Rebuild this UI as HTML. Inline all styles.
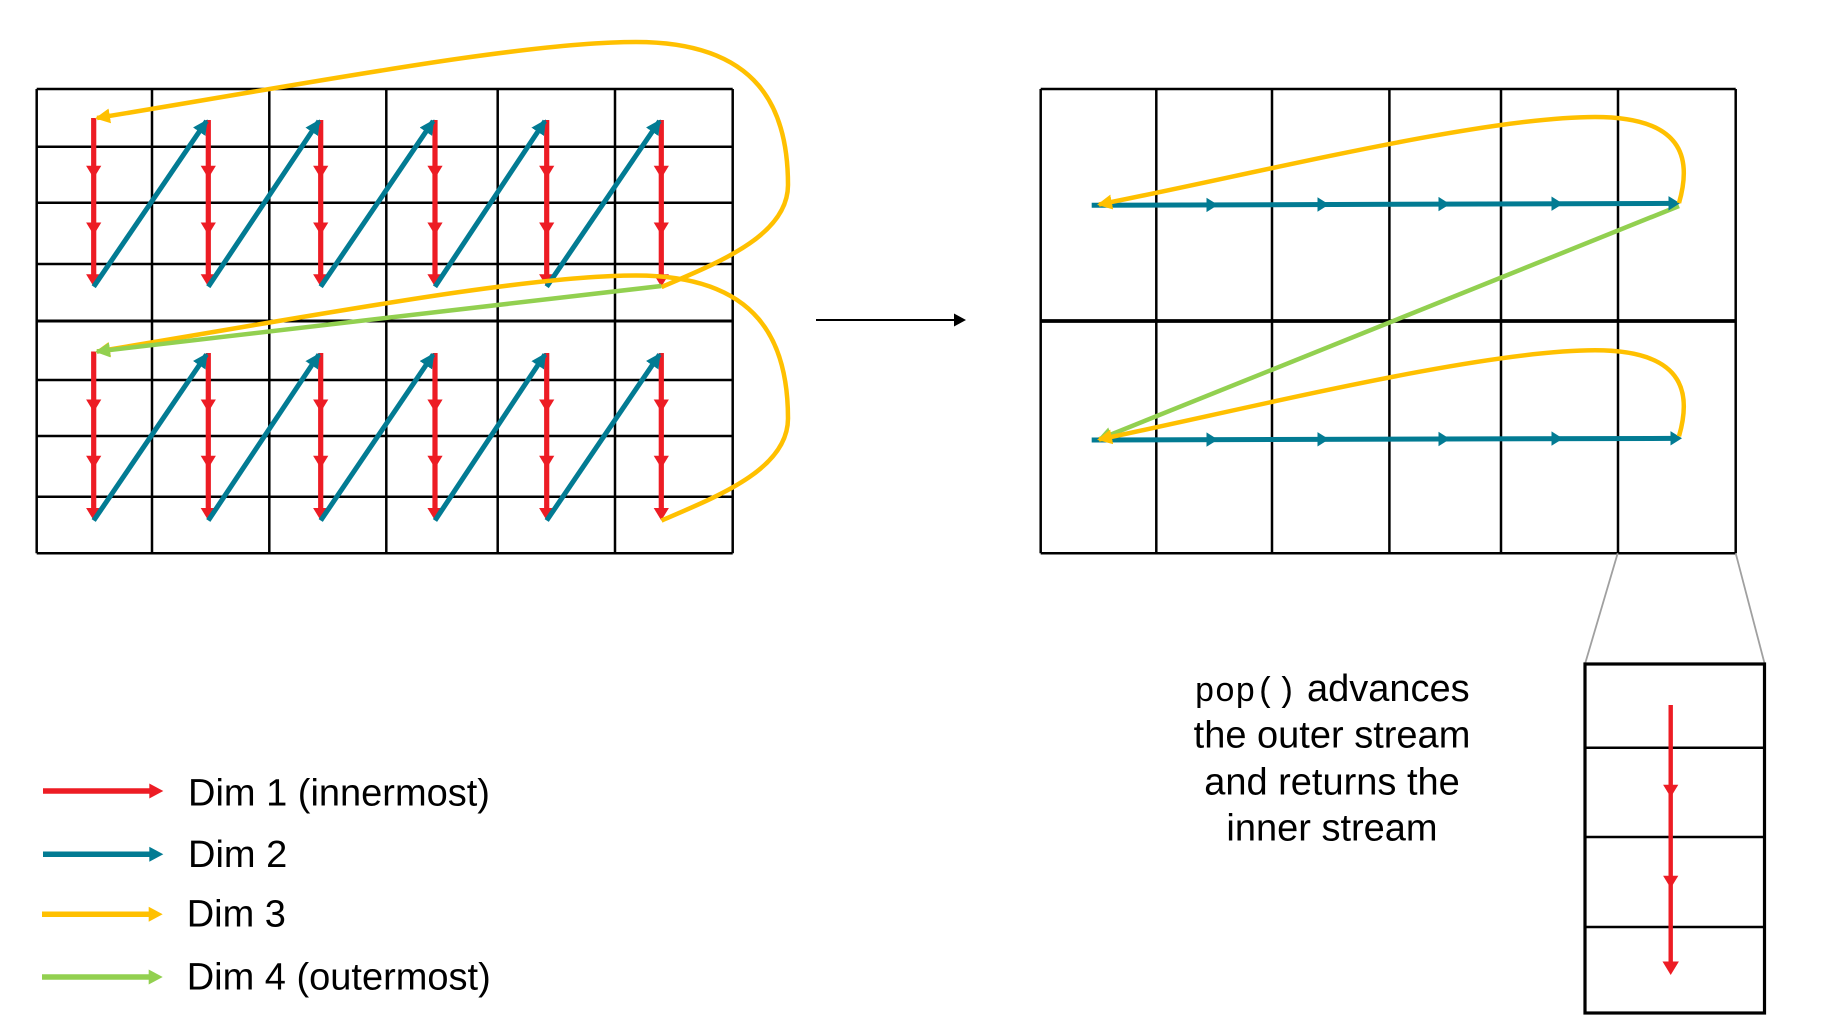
<!DOCTYPE html>
<html>
<head>
<meta charset="utf-8">
<style>
  html, body { margin: 0; padding: 0; background: #ffffff; }
  body { width: 1824px; height: 1026px; overflow: hidden; }
  svg { display: block; }
</style>
</head>
<body>
<svg width="1824" height="1026" viewBox="0 0 1824 1026" xmlns="http://www.w3.org/2000/svg">
  <defs>
    <path id="rh" d="M-7.6,-12.5 L7.6,-12.5 L0,0 Z" fill="#ED1C24"/>
    <path id="bh" d="M-11.5,-7.2 L0,0 L-11.5,7.2 Z" fill="#027B93"/>
    <marker id="mb" markerUnits="userSpaceOnUse" markerWidth="18" markerHeight="16" refX="13" refY="7.5" orient="auto">
      <path d="M0,0 L15,7.5 L0,15 Z" fill="#027B93"/>
    </marker>
    <marker id="my" markerUnits="userSpaceOnUse" markerWidth="18" markerHeight="16" refX="13" refY="7.5" orient="auto">
      <path d="M0,0 L15,7.5 L0,15 Z" fill="#FFC000"/>
    </marker>
    <marker id="mg" markerUnits="userSpaceOnUse" markerWidth="18" markerHeight="16" refX="13" refY="7.5" orient="auto">
      <path d="M0,0 L15,7.5 L0,15 Z" fill="#92D050"/>
    </marker>
  </defs>

  <rect x="0" y="0" width="1824" height="1026" fill="#ffffff"/>

  <!-- ============ LEFT GRID ============ -->
  <g stroke="#000" stroke-width="2.5" fill="none">
    <line x1="36.7" y1="89" x2="732.7" y2="89"/>
    <line x1="36.7" y1="146.7" x2="732.7" y2="146.7"/>
    <line x1="36.7" y1="202.7" x2="732.7" y2="202.7"/>
    <line x1="36.7" y1="264" x2="732.7" y2="264"/>
    <line x1="36.7" y1="321" x2="732.7" y2="321" stroke-width="3"/>
    <line x1="36.7" y1="380" x2="732.7" y2="380"/>
    <line x1="36.7" y1="436" x2="732.7" y2="436"/>
    <line x1="36.7" y1="496.7" x2="732.7" y2="496.7"/>
    <line x1="36.7" y1="553.3" x2="732.7" y2="553.3"/>
    <line x1="36.7" y1="89" x2="36.7" y2="553.3"/>
    <line x1="152" y1="89" x2="152" y2="553.3"/>
    <line x1="269.3" y1="89" x2="269.3" y2="553.3"/>
    <line x1="386.3" y1="89" x2="386.3" y2="553.3"/>
    <line x1="497.7" y1="89" x2="497.7" y2="553.3"/>
    <line x1="615" y1="89" x2="615" y2="553.3"/>
    <line x1="732.7" y1="89" x2="732.7" y2="553.3"/>
  </g>

  <!-- red columns -->
  <g stroke="#ED1C24" stroke-width="5.2" fill="none">
    <line x1="93.7" y1="118" x2="93.7" y2="281"/>
    <line x1="208.3" y1="120" x2="208.3" y2="281"/>
    <line x1="320.7" y1="120" x2="320.7" y2="281"/>
    <line x1="435" y1="120" x2="435" y2="281"/>
    <line x1="546.7" y1="120" x2="546.7" y2="281"/>
    <line x1="661.3" y1="120" x2="661.3" y2="281"/>
    <line x1="93.7" y1="351.5" x2="93.7" y2="515"/>
    <line x1="208.3" y1="353" x2="208.3" y2="515"/>
    <line x1="320.7" y1="353" x2="320.7" y2="515"/>
    <line x1="435" y1="353" x2="435" y2="515"/>
    <line x1="546.7" y1="353" x2="546.7" y2="515"/>
    <line x1="661.3" y1="353" x2="661.3" y2="515"/>
  </g>
  <g>
    <use href="#rh" x="93.7" y="178.3"/><use href="#rh" x="93.7" y="235"/><use href="#rh" x="93.7" y="286.7"/>
    <use href="#rh" x="208.3" y="178.3"/><use href="#rh" x="208.3" y="235"/><use href="#rh" x="208.3" y="286.7"/>
    <use href="#rh" x="320.7" y="178.3"/><use href="#rh" x="320.7" y="235"/><use href="#rh" x="320.7" y="286.7"/>
    <use href="#rh" x="435" y="178.3"/><use href="#rh" x="435" y="235"/><use href="#rh" x="435" y="286.7"/>
    <use href="#rh" x="546.7" y="178.3"/><use href="#rh" x="546.7" y="235"/><use href="#rh" x="546.7" y="286.7"/>
    <use href="#rh" x="661.3" y="178.3"/><use href="#rh" x="661.3" y="235"/><use href="#rh" x="661.3" y="286.7"/>
    <use href="#rh" x="93.7" y="412"/><use href="#rh" x="93.7" y="468.3"/><use href="#rh" x="93.7" y="520.5"/>
    <use href="#rh" x="208.3" y="412"/><use href="#rh" x="208.3" y="468.3"/><use href="#rh" x="208.3" y="520.5"/>
    <use href="#rh" x="320.7" y="412"/><use href="#rh" x="320.7" y="468.3"/><use href="#rh" x="320.7" y="520.5"/>
    <use href="#rh" x="435" y="412"/><use href="#rh" x="435" y="468.3"/><use href="#rh" x="435" y="520.5"/>
    <use href="#rh" x="546.7" y="412"/><use href="#rh" x="546.7" y="468.3"/><use href="#rh" x="546.7" y="520.5"/>
    <use href="#rh" x="661.3" y="412"/><use href="#rh" x="661.3" y="468.3"/><use href="#rh" x="661.3" y="520.5"/>
  </g>

  <!-- blue diagonals -->
  <g stroke="#027B93" stroke-width="5" fill="none" marker-end="url(#mb)">
    <line x1="93.7" y1="286.7" x2="206.5" y2="121"/>
    <line x1="208.3" y1="286.7" x2="318.9" y2="121"/>
    <line x1="320.7" y1="286.7" x2="433.2" y2="121"/>
    <line x1="435" y1="286.7" x2="544.9" y2="121"/>
    <line x1="546.7" y1="286.7" x2="659.5" y2="121"/>
    <line x1="93.7" y1="520.5" x2="206.5" y2="354.5"/>
    <line x1="208.3" y1="520.5" x2="318.9" y2="354.5"/>
    <line x1="320.7" y1="520.5" x2="433.2" y2="354.5"/>
    <line x1="435" y1="520.5" x2="544.9" y2="354.5"/>
    <line x1="546.7" y1="520.5" x2="659.5" y2="354.5"/>
  </g>

  <!-- yellow loops (left) -->
  <g stroke="#FFC000" stroke-width="4.5" fill="none" marker-end="url(#my)">
    <path d="M661.5,287 C720,262 788,235 788,185 C788,110 760,42 636,42 C520,42 300,85 97,118"/>
    <path d="M661.5,520.5 C720,495.5 788,468.5 788,418.5 C788,343.5 760,275.5 636,275.5 C520,275.5 300,318.5 97,351.5"/>
  </g>
  <!-- green (left) -->
  <line x1="661.3" y1="286" x2="97" y2="351.5" stroke="#92D050" stroke-width="4.5" marker-end="url(#mg)"/>

  <!-- middle black arrow -->
  <line x1="816" y1="320" x2="957" y2="320" stroke="#000" stroke-width="2"/>
  <polygon points="954,313.5 966,320 954,326.5" fill="#000"/>

  <!-- ============ RIGHT GRID ============ -->
  <g stroke="#000" stroke-width="2.5" fill="none">
    <line x1="1040.7" y1="89" x2="1735.7" y2="89"/>
    <line x1="1040.7" y1="321" x2="1735.7" y2="321" stroke-width="3.8"/>
    <line x1="1040.7" y1="553.3" x2="1735.7" y2="553.3"/>
    <line x1="1040.7" y1="89" x2="1040.7" y2="553.3"/>
    <line x1="1156.3" y1="89" x2="1156.3" y2="553.3"/>
    <line x1="1272" y1="89" x2="1272" y2="553.3"/>
    <line x1="1389.4" y1="89" x2="1389.4" y2="553.3"/>
    <line x1="1501" y1="89" x2="1501" y2="553.3"/>
    <line x1="1618" y1="89" x2="1618" y2="553.3"/>
    <line x1="1735.7" y1="89" x2="1735.7" y2="553.3"/>
  </g>

  <!-- green (right) -->
  <line x1="1679" y1="206" x2="1099" y2="439.3" stroke="#92D050" stroke-width="4.5" marker-end="url(#mg)"/>

  <!-- blue horizontal rows -->
  <g stroke="#027B93" stroke-width="5" fill="none">
    <line x1="1091.7" y1="205.3" x2="1672" y2="203.4"/>
    <line x1="1091.7" y1="440" x2="1674" y2="438.4"/>
  </g>
  <g>
    <use href="#bh" x="1218" y="204.9"/><use href="#bh" x="1329" y="204.5"/><use href="#bh" x="1450" y="204.1"/><use href="#bh" x="1563" y="203.7"/><use href="#bh" x="1680" y="203.3"/>
    <use href="#bh" x="1218" y="439.6"/><use href="#bh" x="1329" y="439.3"/><use href="#bh" x="1450" y="439"/><use href="#bh" x="1563" y="438.6"/><use href="#bh" x="1682" y="438.3"/>
  </g>

  <!-- yellow loops (right) -->
  <g stroke="#FFC000" stroke-width="4.5" fill="none" marker-end="url(#my)">
    <path d="M1679,203 C1690,165 1690,117 1595,117 C1480,117 1250,175 1099,204.5"/>
    <path d="M1679,436.3 C1690,398.3 1690,350.3 1595,350.3 C1480,350.3 1250,408.3 1099,439.5"/>
  </g>

  <!-- connectors to zoom box -->
  <g stroke="#A0A0A0" stroke-width="1.8">
    <line x1="1617.7" y1="553.3" x2="1585" y2="664"/>
    <line x1="1735.7" y1="553.3" x2="1764.7" y2="664"/>
  </g>

  <!-- zoom box -->
  <rect x="1585" y="664" width="179.5" height="349" fill="none" stroke="#000" stroke-width="3.2"/>
  <g stroke="#000" stroke-width="2.5">
    <line x1="1585" y1="747.7" x2="1764.5" y2="747.7"/>
    <line x1="1585" y1="837" x2="1764.5" y2="837"/>
    <line x1="1585" y1="927" x2="1764.5" y2="927"/>
  </g>
  <line x1="1670.7" y1="705" x2="1670.7" y2="968" stroke="#ED1C24" stroke-width="4.4"/>
  <use href="#rh" x="1670.7" y="797.3"/>
  <use href="#rh" x="1670.7" y="888.3"/>
  <polygon points="1662.5,961.5 1678.9,961.5 1670.7,975" fill="#ED1C24"/>

  <!-- right explanatory text -->
  <g font-family="'Liberation Sans', Arial, sans-serif" font-size="38" fill="#000" text-anchor="middle">
    <text x="1332" y="701"><tspan font-family="'Liberation Mono', 'DejaVu Sans Mono', monospace" font-size="34">pop()</tspan> advances</text>
    <text x="1332" y="747.7">the outer stream</text>
    <text x="1332" y="794.3">and returns the</text>
    <text x="1332" y="840.3">inner stream</text>
  </g>

  <!-- ============ LEGEND ============ -->
  <g stroke-width="5.5">
    <line x1="43" y1="791" x2="151" y2="791" stroke="#ED1C24"/>
    <line x1="43" y1="854.3" x2="151" y2="854.3" stroke="#027B93"/>
    <line x1="42" y1="914.3" x2="150" y2="914.3" stroke="#FFC000"/>
    <line x1="42" y1="977" x2="150" y2="977" stroke="#92D050"/>
  </g>
  <polygon points="149.3,783.5 163.3,791 149.3,798.5" fill="#ED1C24"/>
  <polygon points="149.3,846.8 163.3,854.3 149.3,861.8" fill="#027B93"/>
  <polygon points="148.7,906.8 162.7,914.3 148.7,921.8" fill="#FFC000"/>
  <polygon points="148.7,969.5 162.7,977 148.7,984.5" fill="#92D050"/>

  <g font-family="'Liberation Sans', Arial, sans-serif" font-size="38" fill="#000">
    <text x="188" y="805.3">Dim 1 (innermost)</text>
    <text x="188" y="867">Dim 2</text>
    <text x="186.7" y="926.7">Dim 3</text>
    <text x="186.7" y="989.3">Dim 4 (outermost)</text>
  </g>
</svg>
</body>
</html>
